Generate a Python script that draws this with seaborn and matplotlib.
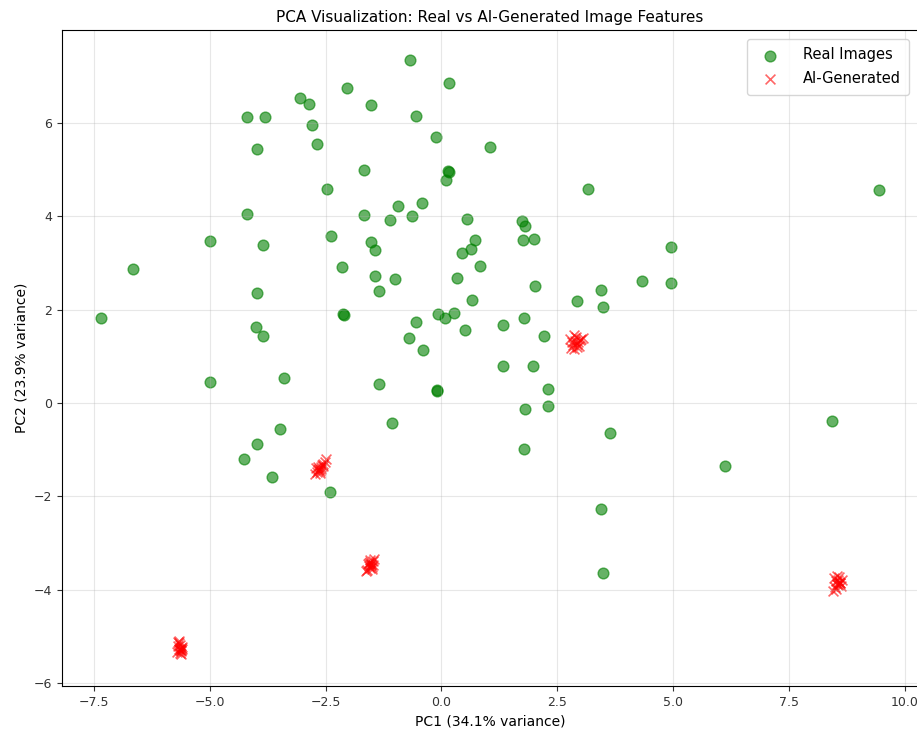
import numpy as np
import pandas as pd
import matplotlib
matplotlib.use("Agg")
import matplotlib.pyplot as plt
import seaborn as sns

# ── 데이터 (그림에서 읽은 PCA 좌표) ─────────────────────────
real_pc1 = [-0.67, 0.17, -2.03, -3.05, -2.85, -1.51, -4.20, -3.81, -0.54, -2.80,
            -0.11, 1.05, -2.69, -3.97, -1.68, 0.17, 0.15, 0.09, -2.46, -0.94,
            -0.42, -4.20, -1.67, -1.11, -0.63, 0.55, -5.00, -3.84, -2.38, -1.52,
            -1.44, 0.73, 0.65, 0.44, 0.84, -6.66, -2.14, -1.44, -1.01, 0.33,
            -1.34, -3.97, 0.66, -7.34, -2.11, -2.12, -0.08, 0.08, 0.28, -0.55,
            0.52, -4.00, -3.86, -0.70, -0.40, 3.16, 9.44, 1.75, 1.80, 1.76,
            2.00, 4.96, 2.03, 4.33, 4.96, 3.45, 2.93, 3.48, 1.79, 1.32,
            2.21, -4.99, -3.39, -1.34, -0.09, -0.10, -1.06, -3.49, -3.99, -4.25,
            -3.66, -2.41, 1.32, 1.98, 2.30, 1.80, 2.30, 3.63, 8.43, 1.78,
            6.13, 3.45, 3.49]
real_pc2 = [7.34, 6.85, 6.74, 6.53, 6.40, 6.38, 6.13, 6.13, 6.15, 5.95,
            5.69, 5.48, 5.54, 5.43, 4.99, 4.94, 4.96, 4.78, 4.58, 4.22,
            4.28, 4.04, 4.02, 3.92, 4.01, 3.94, 3.47, 3.38, 3.57, 3.44,
            3.28, 3.50, 3.29, 3.22, 2.94, 2.88, 2.92, 2.73, 2.65, 2.67,
            2.39, 2.35, 2.20, 1.83, 1.89, 1.90, 1.91, 1.81, 1.93, 1.73,
            1.57, 1.62, 1.44, 1.39, 1.13, 4.58, 4.57, 3.89, 3.78, 3.50,
            3.52, 3.34, 2.51, 2.61, 2.58, 2.43, 2.18, 2.05, 1.83, 1.68,
            1.43, 0.45, 0.54, 0.41, 0.25, 0.27, -0.42, -0.56, -0.88, -1.19,
            -1.58, -1.91, 0.79, 0.79, 0.31, -0.12, -0.07, -0.64, -0.39, -0.98,
            -1.35, -2.27, -3.64]

ai_pc1_a = [2.78, 2.84, 2.90, 2.95, 3.02, 2.80, 2.88, 2.97, 2.86, 2.92, 3.05, 2.82, 2.93, 2.99, 2.87]
ai_pc2_a = [1.38, 1.25, 1.42, 1.30, 1.36, 1.18, 1.33, 1.22, 1.45, 1.27, 1.40, 1.31, 1.20, 1.35, 1.15]
ai_pc1_b = [-2.72, -2.68, -2.64, -2.60, -2.56, -2.52, -2.48, -2.66, -2.62, -2.58, -2.70, -2.55, -2.63, -2.67, -2.59]
ai_pc2_b = [-1.52, -1.47, -1.42, -1.36, -1.30, -1.26, -1.20, -1.38, -1.45, -1.33, -1.40, -1.35, -1.50, -1.44, -1.41]
ai_pc1_c = [-1.60, -1.56, -1.52, -1.48, -1.45, -1.58, -1.50, -1.54, -1.47, -1.62, -1.53, -1.49, -1.57, -1.51, -1.55]
ai_pc2_c = [-3.58, -3.50, -3.44, -3.38, -3.35, -3.45, -3.52, -3.40, -3.47, -3.60, -3.36, -3.55, -3.42, -3.48, -3.53]
ai_pc1_d = [-5.68, -5.64, -5.60, -5.66, -5.62, -5.70, -5.63, -5.67, -5.61, -5.65, -5.69, -5.62, -5.66, -5.64, -5.60]
ai_pc2_d = [-5.12, -5.18, -5.22, -5.26, -5.30, -5.34, -5.38, -5.15, -5.24, -5.28, -5.20, -5.32, -5.10, -5.36, -5.27]
ai_pc1_e = [8.48, 8.52, 8.56, 8.60, 8.64, 8.50, 8.58, 8.54, 8.62, 8.46, 8.57, 8.53, 8.61, 8.55, 8.59]
ai_pc2_e = [-3.75, -3.82, -3.90, -3.85, -3.78, -3.95, -3.72, -3.88, -3.92, -4.02, -3.80, -3.98, -3.86, -3.70, -3.84]

PC1_VAR = 34.1
PC2_VAR = 23.9

real_df = pd.DataFrame({"PC1": real_pc1, "PC2": real_pc2})
ai_df = pd.DataFrame({
    "PC1": ai_pc1_a + ai_pc1_b + ai_pc1_c + ai_pc1_d + ai_pc1_e,
    "PC2": ai_pc2_a + ai_pc2_b + ai_pc2_c + ai_pc2_d + ai_pc2_e,
})

# ── 그림 ───────────────────────────────────────────────────
fig = plt.figure(figsize=(9.17, 7.31), dpi=100)
ax = fig.add_axes([0.0676, 0.0616, 0.9335, 0.8975])

sns.scatterplot(data=real_df, x="PC1", y="PC2", ax=ax, color="green", alpha=0.6,
                s=60, edgecolor="green", linewidth=1, label="Real Images")
sns.scatterplot(data=ai_df, x="PC1", y="PC2", ax=ax, color="red", alpha=0.6,
                s=50, marker="x", linewidth=1.2, label="AI-Generated")

ax.set_xlim(-8.19, 10.29)
ax.set_ylim(-6.06, 7.99)
ax.grid(True, alpha=0.3)
ax.tick_params(labelsize=9, colors="#333333")
ax.set_xlabel(f"PC1 ({PC1_VAR}% variance)", fontsize=10)
ax.set_ylabel(f"PC2 ({PC2_VAR}% variance)", fontsize=10)
ax.set_title("PCA Visualization: Real vs AI-Generated Image Features", fontsize=11)
ax.legend(loc="upper right", fontsize=10.5, borderpad=0.6, labelspacing=0.6,
          handletextpad=1.2, borderaxespad=0.6)

plt.savefig("out.png", dpi=100)
